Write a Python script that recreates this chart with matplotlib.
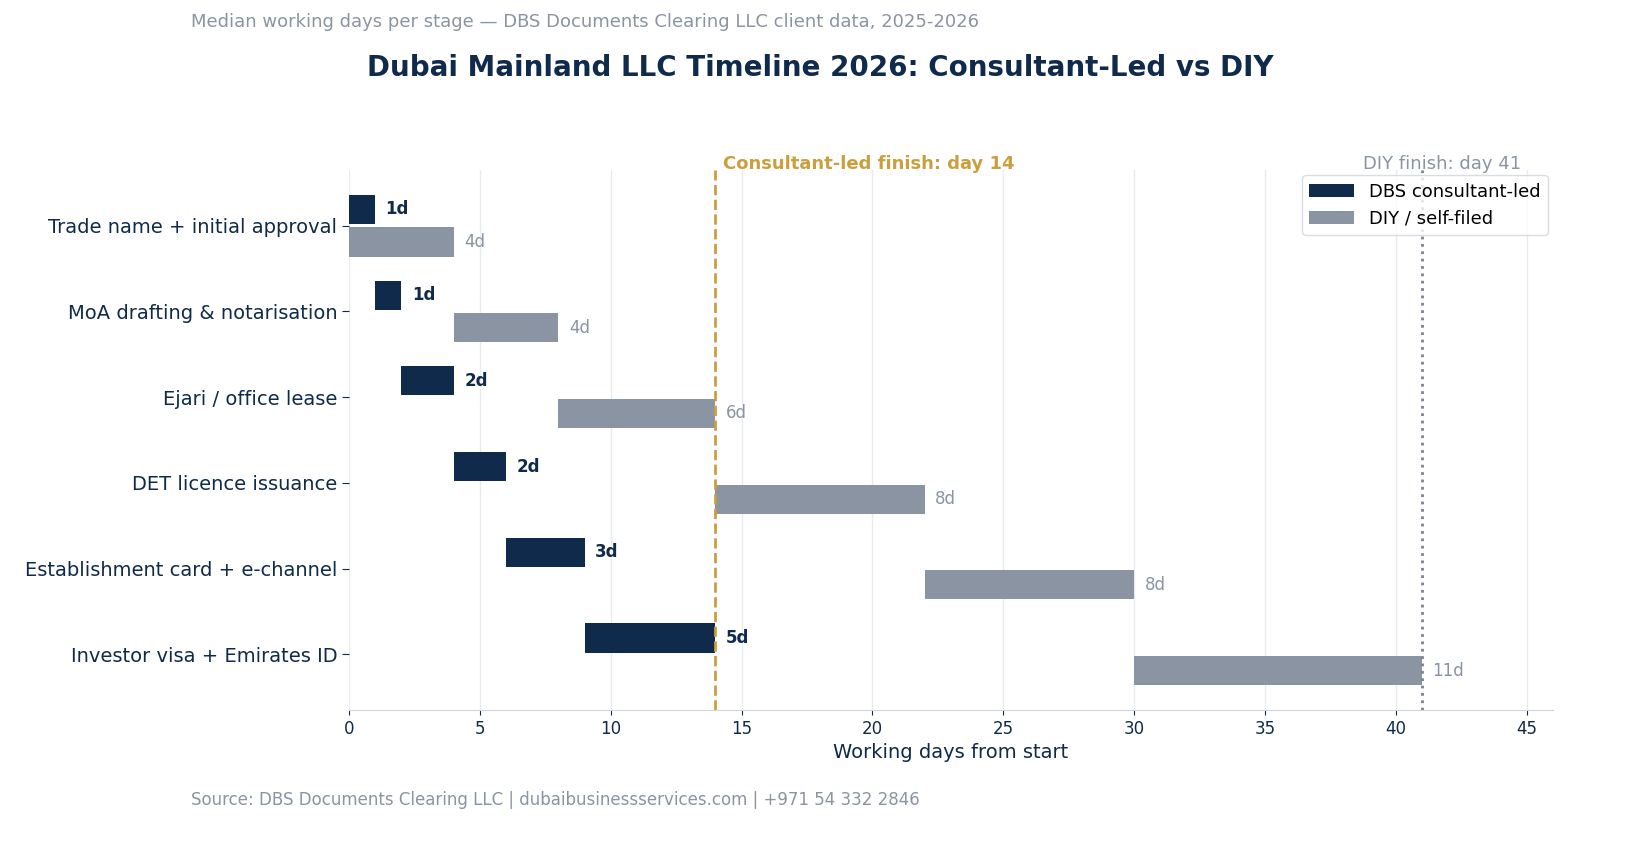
import matplotlib
matplotlib.use("Agg")
import matplotlib.pyplot as plt
import numpy as np

# Data
stages = ["Trade name + initial approval", "MoA drafting & notarisation", "Ejari / office lease",
          "DET licence issuance", "Establishment card + e-channel", "Investor visa + Emirates ID"]
dbs_start = [0, 1, 2, 4, 6, 9]
dbs_days = [1, 1, 2, 2, 3, 5]
diy_start = [0, 4, 8, 14, 22, 30]
diy_days = [4, 4, 6, 8, 8, 11]
dbs_finish = 14
diy_finish = 41

NAVY = "#0f2a4a"
GRAY = "#8a94a3"
GOLD = "#c9a03d"

fig = plt.figure(figsize=(16.35, 8.58), dpi=100)
ax = fig.add_axes([349/1635, 1-710/858, (1553-349)/1635, (710-170)/858])

y = np.arange(len(stages))
h = 0.34
off = 0.19
ax.barh(y - off, dbs_days, left=dbs_start, height=h, color=NAVY, label="DBS consultant-led", zorder=3)
ax.barh(y + off, diy_days, left=diy_start, height=h, color=GRAY, label="DIY / self-filed", zorder=3)

for i in range(len(stages)):
    ax.text(dbs_start[i] + dbs_days[i] + 0.4, y[i] - off, f"{dbs_days[i]}d", va="center",
            fontsize=12, fontweight="bold", color=NAVY)
    ax.text(diy_start[i] + diy_days[i] + 0.4, y[i] + off, f"{diy_days[i]}d", va="center",
            fontsize=12, color=GRAY)

ax.axvline(dbs_finish, color=GOLD, ls="--", lw=2, zorder=4)
ax.axvline(diy_finish, color="#7a8290", ls=":", lw=2, zorder=4)
ax.text(dbs_finish + 0.3, -0.62, f"Consultant-led finish: day {dbs_finish}", color=GOLD,
        fontsize=13, fontweight="bold", va="bottom")
ax.text(diy_finish + 0.75, -0.62, f"DIY finish: day {diy_finish}", color=GRAY,
        fontsize=13, va="bottom", ha="center")

ax.set_yticks(y)
ax.set_yticklabels(stages, fontsize=14, color=NAVY)
ax.set_ylim(len(stages) - 0.35, -0.65)
ax.set_xlim(0, 46)
ax.set_xticks(range(0, 46, 5))
ax.tick_params(axis="x", labelsize=12, colors=NAVY)
ax.tick_params(axis="y", length=5, color=NAVY)
ax.set_xlabel("Working days from start", fontsize=14, color=NAVY)
ax.grid(axis="x", color="#e8ebef", lw=1, zorder=0)
for s in ["top", "right", "left"]:
    ax.spines[s].set_visible(False)
ax.spines["bottom"].set_color("#d0d5dc")

leg = ax.legend(loc="upper right", fontsize=13, frameon=True, edgecolor="#d0d5dc",
                borderaxespad=0.3, handlelength=2.5)
leg.get_frame().set_linewidth(1)

fig.text(191/1635, 1-22/858, "Median working days per stage \u2014 DBS Documents Clearing LLC client data, 2025-2026",
         fontsize=13, color=GRAY, va="center")
fig.text(820/1635, 1-68/858, "Dubai Mainland LLC Timeline 2026: Consultant-Led vs DIY",
         fontsize=20, fontweight="bold", color=NAVY, ha="center", va="center")
fig.text(191/1635, 1-800/858, "Source: DBS Documents Clearing LLC | dubaibusinessservices.com | +971 54 332 2846",
         fontsize=12, color=GRAY, va="center")

fig.savefig("out.png", dpi=100)
